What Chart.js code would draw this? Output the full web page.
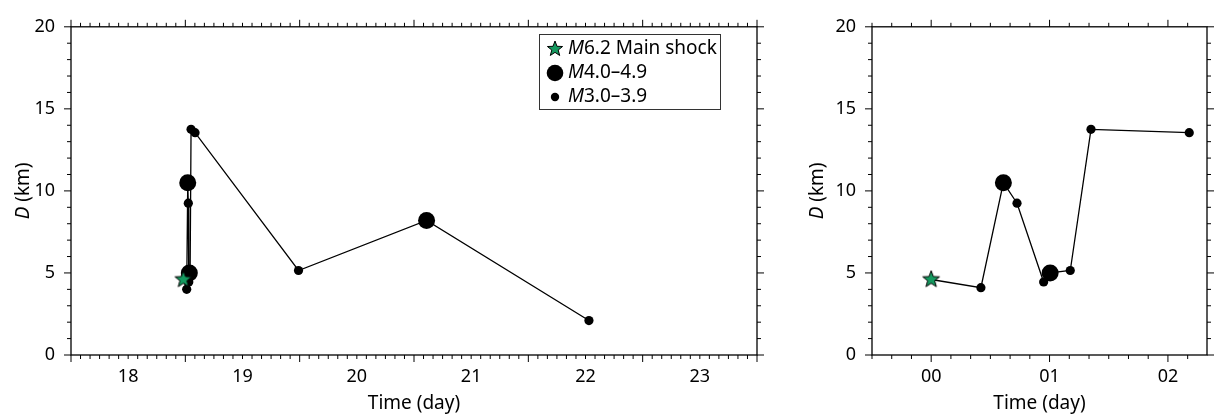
<!DOCTYPE html>
<html>
<head>
<meta charset="utf-8">
<script src="https://cdn.jsdelivr.net/npm/chart.js@4.4.1/dist/chart.umd.min.js"></script>
<style>
  html, body { margin: 0; padding: 0; background: #fff; }
  #wrap { position: relative; width: 1217px; height: 417px; }
  canvas { position: absolute; top: 0; }
  #leftChart { left: 0; }
  #rightChart { left: 780px; }
</style>
</head>
<body>
<div id="wrap">
  <canvas id="leftChart" width="780" height="417"></canvas>
  <canvas id="rightChart" width="437" height="417"></canvas>
</div>
<script>
const FONT = '"Noto Sans", sans-serif';
const STAR_GREEN = '#14995f';

// left panel: time as day of month
const leftTime = [18.983, 19.012, 19.021, 19.026, 19.03, 19.035, 19.042, 19.05, 19.085, 19.99, 21.11, 22.53];
const leftDepth = [4.6, 4.0, 10.5, 9.25, 4.45, 5.0, 5.15, 13.75, 13.55, 5.15, 8.2, 2.1];
const leftClass = ['main', 'M3', 'M4', 'M3', 'M3', 'M4', 'M3', 'M3', 'M3', 'M3', 'M4', 'M3'];
const leftDayLabels = [18, 19, 20, 21, 22, 23];

// right panel: first hours, time as hour of day
const rightTime = [0.0, 0.42, 0.61, 0.725, 0.95, 1.005, 1.175, 1.35, 2.18];
const rightDepth = [4.6, 4.1, 10.5, 9.25, 4.45, 5.0, 5.15, 13.75, 13.55];
const rightClass = ['main', 'M3', 'M4', 'M3', 'M3', 'M4', 'M3', 'M3', 'M3'];
const rightHourLabels = [0, 1, 2];

const depthTicks = [0, 5, 10, 15, 20];

const legendItems = [
  { cls: 'main', rest: '6.2 Main shock' },
  { cls: 'M4', rest: '4.0–4.9' },
  { cls: 'M3', rest: '3.0–3.9' }
];

function makeStar(outer) {
  const inner = outer * 0.42;
  const size = Math.ceil(outer * 2 + 4);
  const c = document.createElement('canvas');
  c.width = size;
  c.height = size;
  const g = c.getContext('2d');
  g.translate(size / 2, size / 2);
  g.beginPath();
  for (let i = 0; i < 10; i++) {
    const r = i % 2 ? inner : outer;
    const a = -Math.PI / 2 + i * Math.PI / 5;
    g.lineTo(r * Math.cos(a), r * Math.sin(a));
  }
  g.closePath();
  g.fillStyle = STAR_GREEN;
  g.fill();
  g.lineWidth = 1;
  g.strokeStyle = '#000';
  g.stroke();
  return c;
}

const plotStar = makeStar(8.8);
const legendStar = makeStar(8);

function radiusOf(cls) {
  if (cls === 'M4') return 8.5;
  if (cls === 'M3') return 4.6;
  return 0;
}

const frameTicks = {
  id: 'frameTicks',
  afterDraw(chart, args, o) {
    const { ctx, chartArea: a, scales: { x, y } } = chart;
    ctx.save();
    ctx.strokeStyle = '#000';
    ctx.lineWidth = 1;

    const each = (scale, step, fn) => {
      const n0 = Math.ceil(scale.min / step - 1e-6);
      const n1 = Math.floor(scale.max / step + 1e-6);
      for (let n = n0; n <= n1; n++) fn(scale.getPixelForValue(n * step), n * step);
    };
    const isMajor = (v, step) => Math.abs(v / step - Math.round(v / step)) < 1e-6;

    ctx.beginPath();
    each(x, o.xMinor, (px, v) => {
      const len = isMajor(v, o.xMajor) ? 7 : 4;
      ctx.moveTo(px, a.bottom);
      ctx.lineTo(px, a.bottom + len);
      ctx.moveTo(px, a.top);
      ctx.lineTo(px, a.top - len);
    });
    each(y, 1, (py, v) => {
      const len = isMajor(v, 5) ? 7 : 4;
      ctx.moveTo(a.left, py);
      ctx.lineTo(a.left - len, py);
      ctx.moveTo(a.right, py);
      ctx.lineTo(a.right + len, py);
    });
    ctx.stroke();

    ctx.lineWidth = 1.3;
    ctx.strokeRect(a.left, a.top, a.right - a.left, a.bottom - a.top);

    // y axis title with italic D
    ctx.fillStyle = '#000';
    ctx.textBaseline = 'middle';
    ctx.translate(o.yTitleX, (a.top + a.bottom) / 2);
    ctx.rotate(-Math.PI / 2);
    ctx.font = `italic 19px ${FONT}`;
    const wD = ctx.measureText('D').width;
    ctx.font = `19px ${FONT}`;
    const wRest = ctx.measureText(' (km)').width;
    const x0 = -(wD + wRest) / 2;
    ctx.font = `italic 19px ${FONT}`;
    ctx.fillText('D', x0, 0);
    ctx.font = `19px ${FONT}`;
    ctx.fillText(' (km)', x0 + wD, 0);
    ctx.restore();

    if (o.legend) drawLegend(ctx, o.legend);
  }
};

function drawLegend(ctx, L) {
  ctx.save();
  ctx.fillStyle = '#fff';
  ctx.fillRect(L.left, L.top, L.width, L.height);
  ctx.strokeStyle = '#333';
  ctx.lineWidth = 1;
  ctx.strokeRect(L.left + 0.5, L.top + 0.5, L.width, L.height);
  ctx.textBaseline = 'middle';
  legendItems.forEach((item, i) => {
    const cy = L.top + L.firstRow + i * L.rowGap;
    const cx = L.left + L.iconX;
    if (item.cls === 'main') {
      ctx.drawImage(legendStar, cx - legendStar.width / 2, cy - legendStar.height / 2);
    } else {
      ctx.fillStyle = '#000';
      ctx.beginPath();
      ctx.arc(cx, cy, item.cls === 'M4' ? 8.3 : 4.2, 0, Math.PI * 2);
      ctx.fill();
    }
    ctx.fillStyle = '#000';
    const tx = L.left + L.textX;
    ctx.font = `italic 19px ${FONT}`;
    ctx.fillText('M', tx, cy);
    const wM = ctx.measureText('M').width;
    ctx.font = `19px ${FONT}`;
    ctx.fillText(item.rest, tx + wM, cy);
  });
  ctx.restore();
}

function panelConfig(p) {
  const pts = p.time.map((t, i) => ({ x: t, y: p.depth[i] }));
  const mainPts = pts.filter((_, i) => p.cls[i] === 'main');
  const radii = p.cls.map(radiusOf);
  return {
    type: 'scatter',
    data: {
      datasets: [
        {
          data: mainPts,
          pointStyle: plotStar,
          pointRadius: 9,
          order: 0
        },
        {
          data: pts,
          showLine: true,
          borderColor: '#000',
          borderWidth: 1.3,
          pointBackgroundColor: '#000',
          pointBorderColor: '#000',
          pointBorderWidth: 0,
          pointRadius: radii,
          pointHoverRadius: radii,
          order: 1
        }
      ]
    },
    options: {
      responsive: false,
      animation: false,
      events: [],
      layout: { padding: { top: 20, right: p.padRight, left: 0, bottom: 0 } },
      plugins: {
        legend: { display: false },
        tooltip: { enabled: false },
        frameTicks: {
          xMinor: p.xMinor,
          xMajor: 1,
          yTitleX: p.yTitleX,
          legend: p.legend
        }
      },
      scales: {
        x: {
          type: 'linear',
          min: p.xMin,
          max: p.xMax,
          afterBuildTicks(s) {
            s.ticks = p.labels.map((v) => ({ value: v + p.labelShift }));
          },
          afterFit(s) {
            s.height = 62;
          },
          ticks: {
            autoSkip: false,
            maxRotation: 0,
            padding: 11,
            color: '#000',
            font: { family: FONT, size: 18 },
            callback: (v) => p.fmt(v)
          },
          grid: { display: false, drawTicks: false },
          border: { display: false },
          title: {
            display: true,
            text: 'Time (day)',
            color: '#000',
            font: { family: FONT, size: 19 },
            padding: { top: 0, bottom: 2 }
          }
        },
        y: {
          type: 'linear',
          min: 0,
          max: 20,
          afterBuildTicks(s) {
            s.ticks = depthTicks.map((v) => ({ value: v }));
          },
          afterFit(s) {
            s.width = p.yWidth;
          },
          ticks: {
            padding: 16,
            color: '#000',
            font: { family: FONT, size: 18 }
          },
          grid: { display: false, drawTicks: false },
          border: { display: false }
        }
      }
    },
    plugins: [frameTicks]
  };
}

new Chart(document.getElementById('leftChart'), panelConfig({
  time: leftTime,
  depth: leftDepth,
  cls: leftClass,
  labels: leftDayLabels,
  labelShift: 0.5,
  fmt: (v) => String(Math.floor(v)),
  xMin: 18,
  xMax: 24,
  xMinor: 1 / 12,
  padRight: 23,
  yWidth: 71,
  yTitleX: 24,
  legend: { left: 539, top: 34, width: 181, height: 75, iconX: 16, textX: 29, firstRow: 15, rowGap: 24 }
}));

new Chart(document.getElementById('rightChart'), panelConfig({
  time: rightTime,
  depth: rightDepth,
  cls: rightClass,
  labels: rightHourLabels,
  labelShift: 0,
  fmt: (v) => String(v).padStart(2, '0'),
  xMin: -0.5,
  xMax: 2.33,
  xMinor: 1 / 6,
  padRight: 10,
  yWidth: 92,
  yTitleX: 38,
  legend: null
}));
</script>
</body>
</html>
